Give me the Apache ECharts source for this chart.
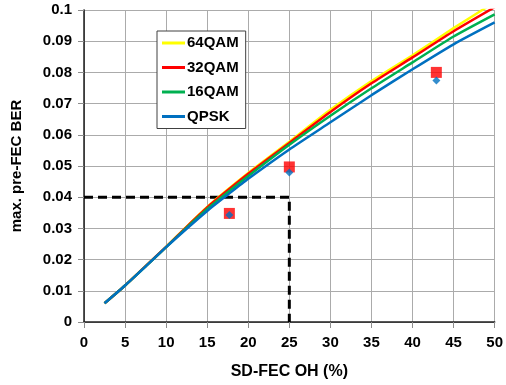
<!DOCTYPE html>
<html>
<head>
<meta charset="UTF-8">
<title>BER vs SD-FEC OH</title>
<script src="https://cdn.jsdelivr.net/npm/echarts@6/dist/echarts.min.js"></script>
<style>
html, body { margin: 0; padding: 0; background: #fff; }
#chart { width: 506px; height: 385px; }
</style>
</head>
<body>
<div id="chart"></div>
<script>
// x positions (SD-FEC OH, %)
var ohX = [2.5, 5, 7.5, 10, 12.5, 15, 17.5, 20, 25, 30, 35, 40, 45, 50];
// max. pre-FEC BER per modulation
var ber64 = [0.006, 0.0117, 0.0179, 0.0241, 0.0306, 0.0369, 0.0425, 0.0478, 0.0578, 0.0680, 0.0772, 0.0855, 0.0942, 0.1025];
var ber32 = [0.006, 0.0117, 0.0179, 0.0241, 0.0305, 0.0367, 0.0422, 0.0475, 0.0574, 0.0673, 0.0765, 0.0848, 0.0932, 0.1009];
var ber16 = [0.006, 0.0117, 0.0178, 0.0240, 0.0302, 0.0362, 0.0416, 0.0468, 0.0568, 0.0661, 0.0749, 0.0832, 0.0915, 0.0986];
var berQpsk = [0.006, 0.0117, 0.0178, 0.0240, 0.0299, 0.0356, 0.0408, 0.0459, 0.0553, 0.0640, 0.0727, 0.0810, 0.0890, 0.0960];
// measured points
var redPts = [[17.7, 0.0348], [25, 0.0497], [42.9, 0.0800]];
var bluePts = [[17.7, 0.0343], [25, 0.0479], [42.9, 0.0774]];
// threshold guide
var guide = [[0, 0.04], [25, 0.04], [25, 0]];

var xTicks = [0, 50, 5];
var yTicks = [0, 0.1, 0.01];

function pairs(ys) {
	var out = [];
	for (var i = 0; i < ohX.length; i++) out.push([ohX[i], ys[i]]);
	return out;
}

var font = 'Arial, "Liberation Sans", sans-serif';
var myChart = echarts.init(document.getElementById('chart'));

function lineSeries(name, color, ys) {
	return {
		name: name,
		type: 'line',
		color: color,
		data: pairs(ys),
		smooth: 0.2,
		symbol: 'none',
		lineStyle: { color: color, width: 2.5 },
		clip: true,
		z: 3
	};
}

var option = {
	animation: false,
	grid: { left: 84, right: 11, top: 10, bottom: 60 },
	legend: {
		orient: 'vertical',
		left: 157,
		top: 31,
		data: ['64QAM', '32QAM', '16QAM', 'QPSK'],
		icon: 'rect',
		itemWidth: 23,
		itemHeight: 3,
		itemGap: 8.5,
		padding: [4, 7, 4, 5],
		backgroundColor: '#fff',
		borderColor: '#404040',
		borderWidth: 1,
		borderRadius: 0,
		textStyle: { color: '#000', fontSize: 15, fontWeight: 'bold', fontFamily: font, lineHeight: 16, padding: [0, 0, 0, -3] }
	},
	xAxis: [{
		type: 'value',
		min: xTicks[0], max: xTicks[1], interval: xTicks[2],
		name: 'SD-FEC OH (%)',
		nameLocation: 'middle',
		nameGap: 42,
		nameTextStyle: { color: '#000', fontSize: 16, fontWeight: 'bold', fontFamily: font },
		axisLine: { lineStyle: { color: '#8c8c8c', width: 1 } },
		axisTick: { show: true, length: 6, lineStyle: { color: '#8c8c8c' } },
		axisLabel: { color: '#000', fontSize: 15, fontWeight: 'bold', fontFamily: font, margin: 13 },
		splitLine: { show: true, lineStyle: { color: '#ababab', width: 1 } }
	}, {
		type: 'value', position: 'top',
		min: xTicks[0], max: xTicks[1],
		axisLine: { show: true, lineStyle: { color: '#202020', width: 1.5 } },
		axisTick: { show: false }, axisLabel: { show: false }, splitLine: { show: false }
	}],
	yAxis: [{
		type: 'value',
		min: yTicks[0], max: yTicks[1], interval: yTicks[2],
		name: 'max. pre-FEC BER',
		nameLocation: 'middle',
		nameGap: 60,
		nameTextStyle: { color: '#000', fontSize: 15, fontWeight: 'bold', fontFamily: font },
		axisLine: { show: true, lineStyle: { color: '#8c8c8c', width: 1 } },
		axisTick: { show: true, length: 6, lineStyle: { color: '#8c8c8c' } },
		axisLabel: {
			color: '#000', fontSize: 15, fontWeight: 'bold', fontFamily: font, margin: 12,
			formatter: function (v) { return String(+v.toFixed(2)); }
		},
		splitLine: { show: true, lineStyle: { color: '#ababab', width: 1 } }
	}, {
		type: 'value', position: 'right',
		min: yTicks[0], max: yTicks[1],
		axisLine: { show: true, lineStyle: { color: '#202020', width: 1.5 } },
		axisTick: { show: false }, axisLabel: { show: false }, splitLine: { show: false }
	}],
	series: [
		{
			name: 'guide',
			type: 'line',
			data: guide,
			symbol: 'none',
			lineStyle: { color: '#000', width: 3, type: [9, 5] },
			z: 2
		},
		lineSeries('64QAM', '#ffff00', ber64),
		lineSeries('32QAM', '#ff0000', ber32),
		lineSeries('16QAM', '#00b050', ber16),
		lineSeries('QPSK', '#0070c0', berQpsk),
		{
			name: 'meas32',
			type: 'scatter',
			data: redPts,
			symbol: 'rect',
			symbolSize: 11,
			itemStyle: { color: '#ff0000' },
			z: 4
		},
		{
			name: 'measQpsk',
			type: 'scatter',
			data: bluePts,
			symbol: 'diamond',
			symbolSize: 8,
			itemStyle: { color: '#0070c0' },
			z: 5
		}
	]
};
myChart.setOption(option);
</script>
</body>
</html>
